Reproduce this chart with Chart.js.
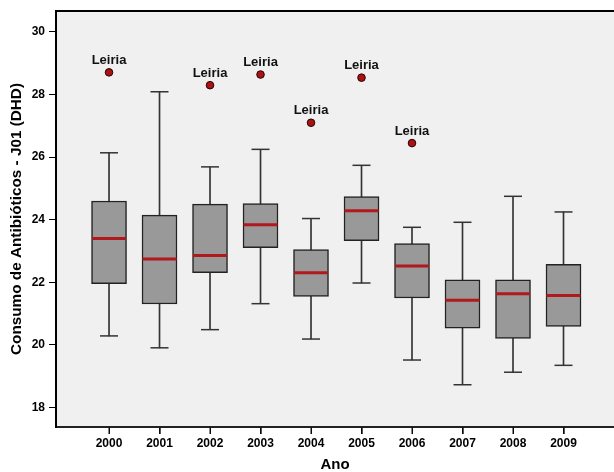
<!DOCTYPE html>
<html>
<head>
<meta charset="utf-8">
<script src="https://cdn.jsdelivr.net/npm/chart.js@4/dist/chart.umd.min.js"></script>
<style>
  body { margin: 0; background: #fff; }
  #wrap { width: 614px; height: 472px; }
</style>
</head>
<body>
<div id="wrap"><canvas id="boxChart"></canvas></div>
<script>
// Values
const years = ['2000', '2001', '2002', '2003', '2004', '2005', '2006', '2007', '2008', '2009'];
const whiskerLow = [20.29, 19.91, 20.49, 21.32, 20.19, 21.98, 19.52, 18.73, 19.13, 19.35];
const q1 = [21.96, 21.31, 22.31, 23.11, 21.55, 23.33, 21.50, 20.54, 20.21, 20.59];
const median = [23.40, 22.75, 22.86, 23.84, 22.31, 24.29, 22.52, 21.43, 21.64, 21.58];
const q3 = [24.60, 24.15, 24.50, 24.52, 23.05, 24.74, 23.24, 22.08, 22.08, 22.58];
const whiskerHigh = [26.14, 28.09, 25.69, 26.25, 24.04, 25.74, 23.76, 23.92, 24.75, 24.25];
const outlierIdx = [0, 2, 3, 4, 5, 6];
const outlierVals = [28.71, 28.30, 28.64, 27.10, 28.54, 26.45];
const outlierName = 'Leiria';
const yTicks = [18, 20, 22, 24, 26, 28, 30];

const FONT = "'Liberation Sans', Arial, sans-serif";

// Plot background, top border, x tick marks and outlier labels
const decor = {
  id: 'decor',
  beforeDraw(chart) {
    const { ctx, chartArea: a } = chart;
    ctx.save();
    ctx.fillStyle = '#fff';
    ctx.fillRect(0, 0, chart.width, chart.height);
    ctx.fillStyle = '#f0f0f0';
    ctx.fillRect(a.left, a.top, a.right - a.left, a.bottom - a.top);
    ctx.restore();
  },
  afterDraw(chart) {
    const { ctx, chartArea: a } = chart;
    const xs = chart.scales.x;
    // drop any clip region still active from dataset drawing
    ctx.restore();
    ctx.restore();
    ctx.save();
    ctx.strokeStyle = '#000';
    ctx.lineWidth = 2;
    ctx.beginPath();
    ctx.moveTo(a.left, a.top);
    ctx.lineTo(a.right, a.top);
    ctx.stroke();

    // x tick marks below the axis line
    ctx.fillStyle = '#111';
    years.forEach((_, i) => {
      const px = Math.round(xs.getPixelForValue(i));
      ctx.fillRect(px - 0.5, a.bottom, 1.2, 7);
    });

    const meta = chart.getDatasetMeta(5);
    ctx.fillStyle = '#111';
    ctx.font = 'bold 13px ' + FONT;
    ctx.textAlign = 'center';
    ctx.textBaseline = 'middle';
    meta.data.forEach(pt => {
      ctx.fillText(outlierName, pt.x, pt.y - 12);
    });
    ctx.restore();
  }
};

const ctx = document.getElementById('boxChart');
new Chart(ctx, {
  type: 'bar',
  data: {
    datasets: [
      {
        // whisker stems
        type: 'bar',
        data: years.map((_, i) => ({ x: i, y: [whiskerLow[i], whiskerHigh[i]] })),
        backgroundColor: '#333',
        barThickness: 1,
        grouped: false,
        order: 6
      },
      {
        // boxes
        type: 'bar',
        data: years.map((_, i) => ({ x: i, y: [q1[i], q3[i]] })),
        backgroundColor: '#999999',
        borderColor: '#222',
        borderWidth: 1.5,
        borderSkipped: false,
        barThickness: 35,
        grouped: false,
        order: 5
      },
      {
        // upper caps
        type: 'scatter',
        data: years.map((_, i) => ({ x: i, y: whiskerHigh[i] })),
        pointStyle: 'line',
        radius: 9,
        borderColor: '#333',
        borderWidth: 1.5,
        order: 4
      },
      {
        // lower caps
        type: 'scatter',
        data: years.map((_, i) => ({ x: i, y: whiskerLow[i] })),
        pointStyle: 'line',
        radius: 9,
        borderColor: '#333',
        borderWidth: 1.5,
        order: 4
      },
      {
        // medians
        type: 'scatter',
        data: years.map((_, i) => ({ x: i, y: median[i] })),
        pointStyle: 'line',
        radius: 17,
        borderColor: '#b0191e',
        borderWidth: 3,
        order: 3
      },
      {
        // outliers
        type: 'scatter',
        data: outlierIdx.map((i, k) => ({ x: i, y: outlierVals[k] })),
        pointStyle: 'circle',
        radius: 3.8,
        backgroundColor: '#a81414',
        borderColor: '#2a0000',
        borderWidth: 1,
        order: 1
      }
    ]
  },
  options: {
    responsive: true,
    maintainAspectRatio: false,
    animation: false,
    layout: { autoPadding: false, padding: { top: 11, right: 0, left: 0, bottom: 0 } },
    plugins: {
      legend: { display: false },
      tooltip: { enabled: false }
    },
    scales: {
      x: {
        type: 'linear',
        min: -1.05,
        max: 10,
        offset: false,
        afterBuildTicks: s => { s.ticks = years.map((_, i) => ({ value: i })); },
        afterFit: s => { s.height = 45; s.paddingLeft = 0; s.paddingRight = 0; },
        ticks: {
          callback: v => years[v],
          color: '#000',
          font: { family: FONT, size: 12, weight: 'bold' },
          padding: 2,
          maxRotation: 0,
          autoSkip: false
        },
        grid: { offset: false, drawOnChartArea: false, drawTicks: true, tickLength: 7, color: '#000' },
        border: { display: true, color: '#222', width: 2 },
        title: {
          display: true,
          text: 'Ano',
          color: '#000',
          font: { family: FONT, size: 15, weight: 'bold', lineHeight: 1 },
          padding: 0
        }
      },
      y: {
        type: 'linear',
        min: 17.38,
        max: 30.67,
        afterBuildTicks: s => { s.ticks = yTicks.map(v => ({ value: v })); },
        afterFit: s => { s.width = 56; s.paddingTop = 0; s.paddingBottom = 0; },
        ticks: {
          color: '#000',
          font: { family: FONT, size: 12, weight: 'bold' },
          padding: 4
        },
        grid: { drawOnChartArea: false, drawTicks: true, tickLength: 7, color: '#000' },
        border: { display: true, color: '#000', width: 2 },
        title: {
          display: true,
          text: 'Consumo de Antibióticos - J01 (DHD)',
          color: '#000',
          font: { family: FONT, size: 15.3, weight: 'bold', lineHeight: 1.2 },
          padding: { top: 7.5, bottom: 0 }
        }
      }
    }
  },
  plugins: [decor]
});
</script>
</body>
</html>
